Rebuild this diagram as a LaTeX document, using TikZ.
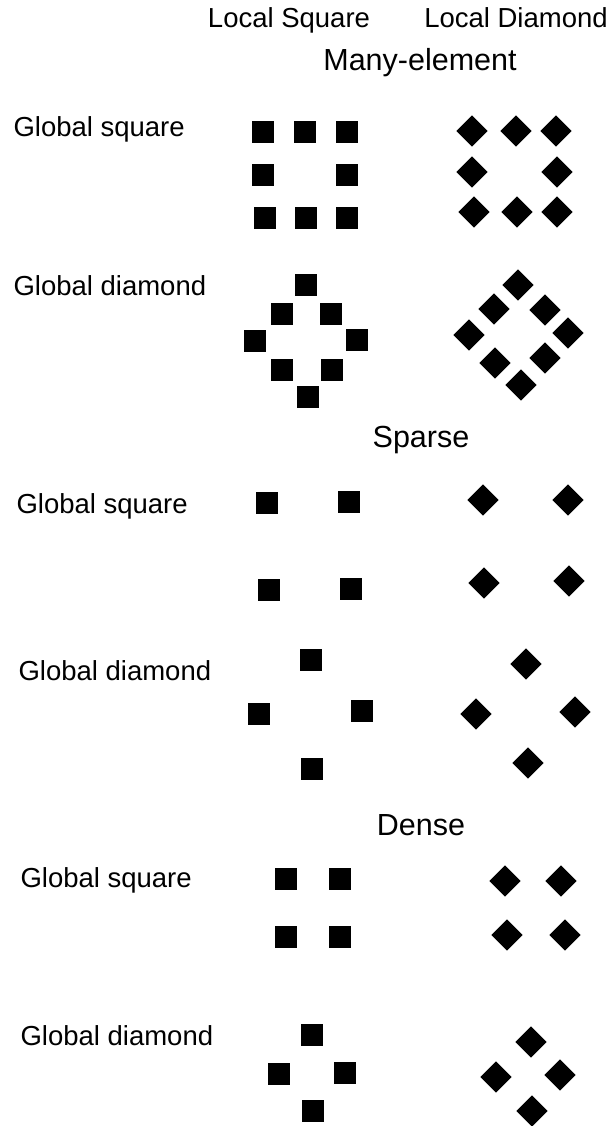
\documentclass[tikz,border=0pt]{standalone}
\usepackage{fontspec}
\setmainfont{Liberation Sans}

\begin{document}
\begin{tikzpicture}[x=1pt, y=-1pt,
    sq/.style={shape=rectangle, fill=black, inner sep=0pt, minimum size=22pt},
    dm/.style={sq, rotate=45},
    lbl/.style={anchor=base west, font=\fontsize{27.5}{30}\selectfont},
    head/.style={anchor=base, font=\fontsize{30.5}{33}\selectfont}]

  % Fix the page size
  \useasboundingbox (0,0) rectangle (612,1126);

  % Column headings
  \node[head, font=\fontsize{27.5}{30}\selectfont] (colsq) at (289,28) {Local Square};
  \node[head, font=\fontsize{27.5}{30}\selectfont] (coldm) at (516,28) {Local Diamond};

  % Section headings
  \node[head] (many) at (420,71) {Many-element};
  \node[head] (sparse) at (421,447) {Sparse};
  \node[head] (dense) at (421,835) {Dense};

  % Row labels
  \node[lbl] (mgs) at (10,137) {Global square};
  \node[lbl] (mgd) at (10,295) {Global diamond};
  \node[lbl] (sgs) at (13,513) {Global square};
  \node[lbl] (sgd) at (15,680) {Global diamond};
  \node[lbl] (dgs) at (17,887) {Global square};
  \node[lbl] (dgd) at (17,1045) {Global diamond};

  % Many-element, global square
  \foreach \px/\py [count=\i] in {263/132,305/132,347/132,263/175,347/175,265/218,306/218,347/218}
    \node[sq] (mgsls\i) at (\px,\py) {};
  \foreach \px/\py [count=\i] in {472/131,516/131,556/131,472/172,557/172,474/212,517/212,557/212}
    \node[dm] (mgsld\i) at (\px,\py) {};

  % Many-element, global diamond
  \foreach \px/\py [count=\i] in {306/285,282/314,331/314,255/341,357/340,282/370,332/370,308/397}
    \node[sq] (mgdls\i) at (\px,\py) {};
  \foreach \px/\py [count=\i] in {518/285,494/309,545/310,469/335,568/333,495/363,545/358,521/385}
    \node[dm] (mgdld\i) at (\px,\py) {};

  % Sparse, global square
  \foreach \px/\py [count=\i] in {267/503,349/502,269/590,351/589}
    \node[sq] (sgsls\i) at (\px,\py) {};
  \foreach \px/\py [count=\i] in {483/500,568/500,484/583,569/581}
    \node[dm] (sgsld\i) at (\px,\py) {};

  % Sparse, global diamond
  \foreach \px/\py [count=\i] in {311/660,259/714,362/711,312/769}
    \node[sq] (sgdls\i) at (\px,\py) {};
  \foreach \px/\py [count=\i] in {526/664,476/714,575/712,528/763}
    \node[dm] (sgdld\i) at (\px,\py) {};

  % Dense, global square
  \foreach \px/\py [count=\i] in {286/879,340/879,286/937,340/937}
    \node[sq] (dgsls\i) at (\px,\py) {};
  \foreach \px/\py [count=\i] in {505/881,561/881,507/935,565/935}
    \node[dm] (dgsld\i) at (\px,\py) {};

  % Dense, global diamond
  \foreach \px/\py [count=\i] in {312/1035,279/1074,345/1073,313/1111}
    \node[sq] (dgdls\i) at (\px,\py) {};
  \foreach \px/\py [count=\i] in {531/1042,496/1077,560/1075,532/1111}
    \node[dm] (dgdld\i) at (\px,\py) {};

\end{tikzpicture}
\end{document}
